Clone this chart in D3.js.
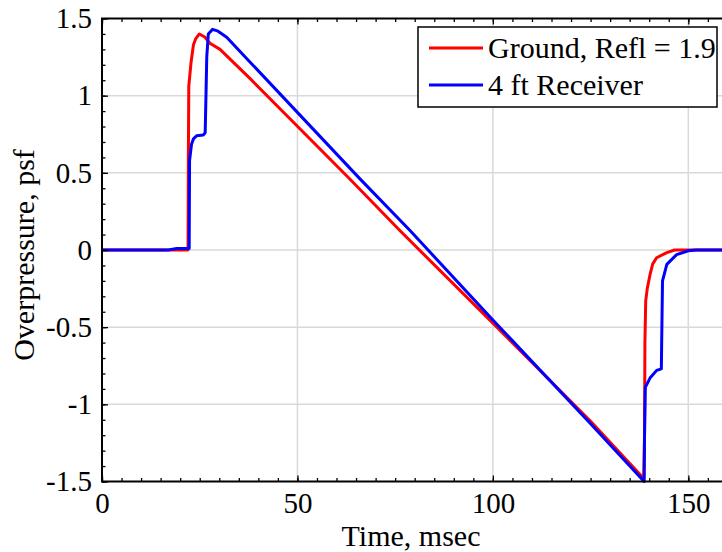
<!DOCTYPE html>
<html>
<head>
<meta charset="utf-8">
<script src="https://cdn.jsdelivr.net/npm/d3@7"></script>
<style>
  body { margin: 0; background: #fff; }
  svg { display: block; }
  text { font-family: "Liberation Serif", "Times New Roman", serif; fill: #000; }
</style>
</head>
<body>
<script>
// Ground trace (Refl = 1.9)
var groundT = [0, 22.0, 22.1, 22.2, 22.8, 23.4, 24.0, 24.9, 26.3, 27.6, 30.2, 37.9, 63.4, 76.2, 100, 125, 138.6,
               138.8, 138.9, 139.1, 139.5, 140.2, 140.9, 141.9, 144.5, 146.5, 160];
var groundP = [0, 0, 0.6, 1.06, 1.22, 1.33, 1.37, 1.40, 1.38, 1.34, 1.30, 1.11, 0.46, 0.126, -0.474, -1.11, -1.48,
               -1.2, -0.6, -0.33, -0.25, -0.16, -0.09, -0.05, -0.017, 0, 0];

// 4 ft receiver trace
var receiverT = [0, 17.0, 19.1, 22.3, 22.4, 22.9, 23.4, 24.2, 25.9, 26.4, 26.6, 26.8, 27.2, 28.3, 29.5, 31.9, 37.9,
                 66.0, 78.8, 100, 125, 138.7, 138.8, 139.0, 140.2, 141.9, 143.1, 143.2, 143.4, 144.5, 147.0, 150, 152, 160];
var receiverP = [0, 0, 0.01, 0.01, 0.58, 0.685, 0.72, 0.74, 0.745, 0.76, 1.0, 1.25, 1.40, 1.43, 1.42, 1.378, 1.217,
                 0.461, 0.126, -0.453, -1.126, -1.50, -1.2, -0.89, -0.83, -0.78, -0.77, -0.57, -0.2, -0.093, -0.03, -0.005, 0, 0];

var xTicks = [0, 50, 100, 150];
var yTicks = [-1.5, -1, -0.5, 0, 0.5, 1, 1.5];
var legendLabels = ["Ground, Refl = 1.9", "4 ft Receiver"];
var colors = ["#ff0000", "#0000ff"];

var W = 722, H = 552;
var margin = {left: 102, top: 18.5, bottom: 481.5};
var x = d3.scaleLinear().domain([0, 160]).range([margin.left, 727.4]);
var y = d3.scaleLinear().domain([-1.5, 1.5]).range([margin.bottom, margin.top]);

var svg = d3.select("body").append("svg").attr("width", W).attr("height", H);

// grid
svg.append("g").selectAll("line").data(xTicks.filter(function(d) { return d > 0; }))
  .enter().append("line")
  .attr("x1", x).attr("x2", x).attr("y1", y(-1.5)).attr("y2", y(1.5))
  .attr("stroke", "#d9d9d9").attr("stroke-width", 1.5);
svg.append("g").selectAll("line").data(yTicks.filter(function(d) { return d > -1.5 && d < 1.5; }))
  .enter().append("line")
  .attr("x1", x(0)).attr("x2", x(160)).attr("y1", y).attr("y2", y)
  .attr("stroke", "#d9d9d9").attr("stroke-width", 1.5);

// curves
var line = d3.line()
  .x(function(d) { return x(d[0]); })
  .y(function(d) { return y(d[1]); });

var series = [d3.zip(groundT, groundP), d3.zip(receiverT, receiverP)];
svg.append("g").selectAll("path").data(series).enter().append("path")
  .attr("d", line)
  .attr("fill", "none")
  .attr("stroke", function(d, i) { return colors[i]; })
  .attr("stroke-width", 3)
  .attr("stroke-linejoin", "round");

// axes
var fmt = function(d) { return String(d); };
function styleAxis(g) {
  g.select(".domain").remove();
  g.attr("font-family", null);
  g.selectAll("line").attr("stroke", "#000").attr("stroke-width", 1.3);
  g.selectAll("text").style("font-size", "29px").style("font-family", "'Liberation Serif', serif");
}

svg.append("g").attr("transform", "translate(0," + y(-1.5) + ")")
  .call(d3.axisBottom(x).ticks(32).tickSize(-3.5).tickFormat(""))
  .call(styleAxis);
svg.append("g").attr("transform", "translate(0," + y(-1.5) + ")")
  .call(d3.axisBottom(x).tickValues(xTicks).tickSize(-6).tickPadding(11).tickFormat(fmt))
  .call(styleAxis);
svg.append("g").attr("transform", "translate(0," + y(1.5) + ")")
  .call(d3.axisTop(x).ticks(32).tickSize(-3.5).tickFormat(""))
  .call(styleAxis);
svg.append("g").attr("transform", "translate(0," + y(1.5) + ")")
  .call(d3.axisTop(x).tickValues(xTicks).tickSize(-6).tickFormat(""))
  .call(styleAxis);
svg.append("g").attr("transform", "translate(" + x(0) + ",0)")
  .call(d3.axisLeft(y).ticks(30).tickSize(-3.5).tickFormat(""))
  .call(styleAxis);
svg.append("g").attr("transform", "translate(" + x(0) + ",0)")
  .call(d3.axisLeft(y).tickValues(yTicks).tickSize(-6).tickPadding(10).tickFormat(fmt))
  .call(styleAxis);

// frame
svg.append("path")
  .attr("d", "M" + x(160) + "," + y(1.5) + "H" + x(0) + "V" + y(-1.5) + "H" + x(160))
  .attr("fill", "none").attr("stroke", "#000").attr("stroke-width", 2);

// axis titles
svg.append("text")
  .attr("x", (x(0) + 722) / 2 - 1).attr("y", 546)
  .attr("text-anchor", "middle").attr("font-size", "30px")
  .text("Time, msec");
svg.append("text")
  .attr("transform", "translate(34," + (y(0) + 5) + ") rotate(-90)")
  .attr("text-anchor", "middle").attr("font-size", "30px")
  .text("Overpressure, psf");

// legend
var lg = svg.append("g").attr("transform", "translate(418,27)");
lg.append("rect").attr("width", 299).attr("height", 80)
  .attr("fill", "#fff").attr("stroke", "#000").attr("stroke-width", 1.5);
var item = lg.selectAll("g.item").data(legendLabels).enter().append("g")
  .attr("class", "item")
  .attr("transform", function(d, i) { return "translate(0," + (21 + i * 37) + ")"; });
item.append("line").attr("x1", 11).attr("x2", 65)
  .attr("stroke", function(d, i) { return colors[i]; }).attr("stroke-width", 3);
item.append("text").attr("x", 70).attr("y", 10).attr("font-size", "30px")
  .text(function(d) { return d; });
</script>
</body>
</html>
